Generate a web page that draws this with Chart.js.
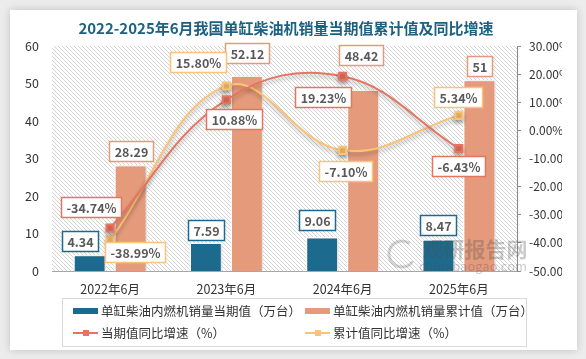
<!DOCTYPE html>
<html>
<head>
<meta charset="utf-8">
<script src="https://cdn.jsdelivr.net/npm/chart.js@4.4.1/dist/chart.umd.min.js"></script>
<style>
  html, body { margin: 0; padding: 0; background: #ececec; }
  #card { position: absolute; left: 10px; top: 10px; width: 567px; height: 340px; background: #fff; box-shadow: 0 0 8px rgba(0, 0, 0, 0.18); }
  #wrap { position: absolute; left: 0; top: 0; width: 586px; height: 359px; }
</style>
</head>
<body>
<div id="card"></div>
<div id="wrap"><canvas id="myChart" width="586" height="359"></canvas></div>
<script>
const categories = ['2022年6月', '2023年6月', '2024年6月', '2025年6月']
const seriesNames = ['单缸柴油内燃机销量当期值（万台）', '单缸柴油内燃机销量累计值（万台）', '当期值同比增速（%）', '累计值同比增速（%）']
const currentValues = [4.34, 7.59, 9.06, 8.47]
const cumulativeValues = [28.29, 52.12, 48.42, 51]
const currentGrowth = [-34.74, 10.88, 19.23, -6.43]
const cumulativeGrowth = [-38.99, 15.80, -7.10, 5.34]

const FONT = "'Noto Sans CJK SC', sans-serif"
Chart.defaults.font.family = FONT
Chart.defaults.color = '#333'

// plot area background: thin diagonal hatch
const hatchBg = {
  id: 'hatchBg',
  beforeDraw (chart) {
    const { ctx, chartArea: a } = chart
    const tile = document.createElement('canvas')
    tile.width = 4
    tile.height = 4
    const t = tile.getContext('2d')
    t.fillStyle = '#fff'
    t.fillRect(0, 0, 4, 4)
    t.strokeStyle = '#d4d4d4'
    t.lineWidth = 1
    t.beginPath()
    t.moveTo(-1, -1); t.lineTo(5, 5)
    t.moveTo(-1, 3); t.lineTo(1, 5)
    t.moveTo(3, -1); t.lineTo(5, 1)
    t.stroke()
    ctx.save()
    ctx.fillStyle = ctx.createPattern(tile, 'repeat')
    ctx.fillRect(a.left, a.top, a.right - a.left, a.bottom - a.top)
    ctx.restore()
  }
}

const lineShadow = {
  id: 'lineShadow',
  beforeDatasetDraw (chart, args) {
    const ctx = chart.ctx
    ctx.save()
    if (args.meta.type === 'line') {
      ctx.shadowColor = 'rgba(0, 0, 0, 0.3)'
      ctx.shadowBlur = 4
      ctx.shadowOffsetY = 3
    } else {
      ctx.shadowColor = 'rgba(0, 0, 0, 0.15)'
      ctx.shadowBlur = 3
      ctx.shadowOffsetX = 2
    }
  },
  afterDatasetDraw (chart) {
    chart.ctx.restore()
  }
}

// boxed value labels
const valueLabels = {
  id: 'valueLabels',
  afterDatasetsDraw (chart, args, opts) {
    const ctx = chart.ctx
    ctx.save()
    ctx.font = 'bold 12.5px ' + FONT
    ctx.textAlign = 'center'
    ctx.textBaseline = 'middle'
    chart.data.datasets.forEach((ds, i) => {
      const meta = chart.getDatasetMeta(i)
      const offs = opts.offsets[i]
      const isLine = ds.type === 'line'
      meta.data.forEach((el, j) => {
        const text = isLine ? ds.data[j].toFixed(2) + '%' : String(ds.data[j])
        const cx = el.x + offs[j][0]
        const cy = el.y + offs[j][1]
        const w = Math.round(ctx.measureText(text).width + 10)
        const h = 20
        const x0 = Math.round(cx - w / 2) + 0.5
        const y0 = Math.round(cy - h / 2) + 0.5
        ctx.fillStyle = '#fff'
        ctx.fillRect(x0, y0, w, h)
        ctx.strokeStyle = isLine ? ds.borderColor : ds.backgroundColor
        ctx.lineWidth = 1.5
        ctx.strokeRect(x0, y0, w, h)
        ctx.fillStyle = '#595959'
        ctx.fillText(text, x0 + w / 2, y0 + h / 2 + 0.5)
      })
    })
    ctx.restore()
  }
}

const watermark = {
  id: 'watermark',
  afterDraw (chart) {
    const ctx = chart.ctx
    ctx.save()
    ctx.fillStyle = 'rgba(80, 80, 80, 0.3)'
    ctx.textAlign = 'center'
    ctx.textBaseline = 'middle'
    ctx.font = 'bold 21px ' + FONT
    ctx.fillText('观研报告网', 475, 249)
    ctx.font = '13px ' + FONT
    ctx.fillText('chinabaogao.com', 473, 266)
    ctx.strokeStyle = 'rgba(80, 80, 80, 0.25)'
    ctx.lineWidth = 3
    ctx.beginPath()
    ctx.arc(402, 254, 13, 0.6, Math.PI * 1.7)
    ctx.stroke()
    ctx.restore()
  }
}

// legend drawn in two columns inside a thin box
const boxLegend = {
  id: 'boxLegend',
  afterDraw (chart, args, opts) {
    const ctx = chart.ctx
    ctx.save()
    ctx.strokeStyle = '#d9d9d9'
    ctx.lineWidth = 1
    ctx.strokeRect(62.5, 298.5, 464, 48)
    ctx.font = '12.5px ' + FONT
    ctx.textBaseline = 'middle'
    ctx.textAlign = 'left'
    chart.data.datasets.forEach((ds, i) => {
      const x = opts.cols[i % 2]
      const y = opts.rows[Math.floor(i / 2)]
      if (ds.type === 'line') {
        ctx.strokeStyle = ds.borderColor
        ctx.lineWidth = 2
        ctx.beginPath()
        ctx.moveTo(x, y)
        ctx.lineTo(x + 25, y)
        ctx.stroke()
        ctx.fillStyle = ds.borderColor
        ctx.fillRect(x + 10, y - 3, 6, 6)
      } else {
        ctx.fillStyle = ds.backgroundColor
        ctx.fillRect(x, y - 3, 25, 6)
      }
      ctx.fillStyle = '#333'
      ctx.fillText(ds.label, x + 28, y)
    })
    ctx.restore()
  }
}

const ctx = document.getElementById('myChart').getContext('2d')
new Chart(ctx, {
  data: {
    labels: categories,
    datasets: [
      {
        type: 'bar',
        label: seriesNames[0],
        data: currentValues,
        backgroundColor: '#1c6b8e',
        borderColor: '#fff',
        borderWidth: 1.5,
        yAxisID: 'y',
        order: 1,
        categoryPercentage: 0.705,
        barPercentage: 0.8
      },
      {
        type: 'bar',
        label: seriesNames[1],
        data: cumulativeValues,
        backgroundColor: '#e59b7b',
        borderColor: '#fff',
        borderWidth: 1.5,
        yAxisID: 'y',
        order: 1,
        categoryPercentage: 0.705,
        barPercentage: 0.8
      },
      {
        type: 'line',
        label: seriesNames[2],
        data: currentGrowth,
        borderColor: '#e8735f',
        backgroundColor: '#e8735f',
        borderWidth: 2,
        tension: 0.4,
        pointStyle: 'rect',
        pointRadius: 5,
        yAxisID: 'y1',
        order: 0
      },
      {
        type: 'line',
        label: seriesNames[3],
        data: cumulativeGrowth,
        borderColor: '#fcc275',
        backgroundColor: '#fcc275',
        borderWidth: 2,
        tension: 0.4,
        pointStyle: 'rect',
        pointRadius: 5,
        yAxisID: 'y1',
        order: 0
      }
    ]
  },
  options: {
    responsive: false,
    animation: false,
    layout: { padding: { left: 10, right: 24, top: 0, bottom: 0 } },
    scales: {
      x: {
        grid: { display: false, drawTicks: false },
        border: { display: true, color: '#a6a6a6', width: 1 },
        ticks: { padding: 11, font: { size: 12.5 }, color: '#333' },
        afterFit: s => { s.height = 88 }
      },
      y: {
        position: 'left',
        min: 0,
        max: 60,
        grid: { display: false, drawTicks: false },
        border: { display: false },
        ticks: { stepSize: 10, padding: 13, font: { size: 12.5 }, color: '#333' },
        afterFit: s => { s.width = 42 }
      },
      y1: {
        position: 'right',
        min: -50,
        max: 30,
        grid: { display: true, drawOnChartArea: false, drawTicks: true, tickLength: 4, color: '#8c8c8c' },
        border: { display: true, color: '#8c8c8c', width: 1 },
        ticks: {
          stepSize: 10,
          padding: 8,
          font: { size: 12 },
          color: '#333',
          callback: v => v.toFixed(2) + '%'
        },
        afterFit: s => { s.width = 45 }
      }
    },
    plugins: {
      legend: { display: false },
      tooltip: { enabled: false },
      title: {
        display: true,
        text: '2022-2025年6月我国单缸柴油机销量当期值累计值及同比增速',
        color: '#1d6182',
        font: { size: 15, weight: 'bold' },
        padding: { top: 19, bottom: 9 }
      },
      valueLabels: {
        offsets: [
          [[-10, -14], [0, -13], [-5, -17], [0, -14]],
          [[0, -14], [0, -23], [-2, -34], [0, -14]],
          [[-19, -21], [8, 19], [-20, 21], [0, 18]],
          [[25, 12], [-28, -24], [3, 21], [-1, -18]]
        ]
      },
      boxLegend: {
        cols: [73, 305],
        rows: [311, 333]
      }
    }
  },
  plugins: [hatchBg, lineShadow, valueLabels, watermark, boxLegend]
})
</script>
</body>
</html>
